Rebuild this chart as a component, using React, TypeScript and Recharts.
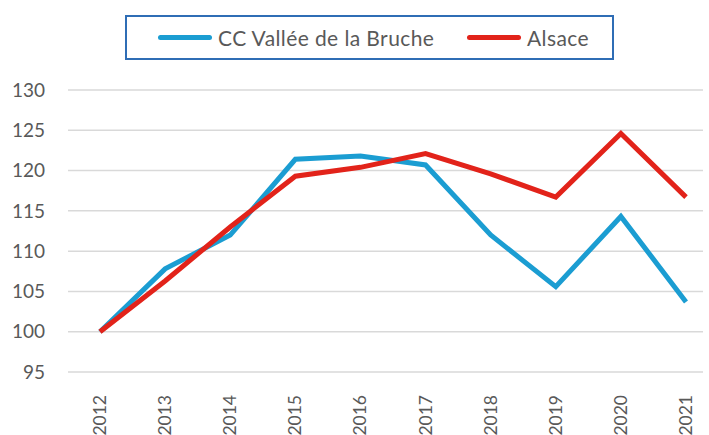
import { LineChart, Line, XAxis, YAxis, CartesianGrid } from 'recharts';

const years = ['2012', '2013', '2014', '2015', '2016', '2017', '2018', '2019', '2020', '2021'];
const bruche = [100, 107.8, 112.0, 121.4, 121.8, 120.7, 112.0, 105.6, 114.3, 103.7];
const alsace = [100, 106.3, 113.0, 119.3, 120.4, 122.1, 119.6, 116.7, 124.6, 116.7];
const yTicks = [95, 100, 105, 110, 115, 120, 125, 130];

const series = [
  { key: 'bruche', name: 'CC Vallée de la Bruche', color: '#1B9DD2' },
  { key: 'alsace', name: 'Alsace', color: '#E2231A' },
];

const data = years.map((year, i) => ({ year, bruche: bruche[i], alsace: alsace[i] }));

const FONT = 'Lato, "Open Sans", sans-serif';
const GREY = '#595959';

function YearTick(props: any) {
  const { x, y, payload } = props;
  return (
    <text
      x={0}
      y={0}
      transform={`translate(${x + 6},${y + 15}) rotate(-90)`}
      textAnchor="end"
      fill={GREY}
      fontSize={17.5}
      fontFamily={FONT}
    >
      {payload.value}
    </text>
  );
}

function LegendBox() {
  return (
    <div
      style={{
        position: 'absolute',
        left: 125,
        top: 15,
        width: 485,
        height: 41,
        border: '2px solid #2F6DB5',
        display: 'flex',
        alignItems: 'center',
        boxSizing: 'content-box',
        fontFamily: FONT,
        fontSize: 21,
        letterSpacing: 0.4,
        color: GREY,
        background: '#fff',
      }}
    >
      {series.map((s, i) => (
        <div key={s.key} style={{ display: 'flex', alignItems: 'center', marginLeft: i === 0 ? 31 : 32 }}>
          <span style={{ display: 'inline-block', width: 54, height: 5, borderRadius: 3, background: s.color, marginRight: 6 }} />
          <span style={{ display: 'inline-block', width: i === 0 ? 217 : 'auto', whiteSpace: 'nowrap' }}>{s.name}</span>
        </div>
      ))}
    </div>
  );
}

export default function App() {
  return (
    <div style={{ position: 'fixed', left: 0, top: 0, width: 709, height: 435, background: '#fff' }}>
      <LineChart width={709} height={435} data={data} margin={{ top: 90, right: 6, bottom: 0, left: 0 }}>
        <CartesianGrid horizontal vertical={false} stroke="#D9D9D9" strokeWidth={1.5} />
        <XAxis
          dataKey="year"
          axisLine={false}
          tickLine={false}
          height={63}
          interval={0}
          padding={{ left: 32, right: 17 }}
          tick={<YearTick />}
        />
        <YAxis
          domain={[95, 130]}
          ticks={yTicks}
          width={68}
          axisLine={false}
          tickLine={false}
          tickMargin={17}
          tick={{ fill: GREY, fontSize: 19, fontFamily: FONT }}
        />
        {series.map((s) => (
          <Line
            key={s.key}
            dataKey={s.key}
            name={s.name}
            stroke={s.color}
            strokeWidth={5}
            dot={false}
            isAnimationActive={false}
          />
        ))}
      </LineChart>
      <LegendBox />
    </div>
  );
}
